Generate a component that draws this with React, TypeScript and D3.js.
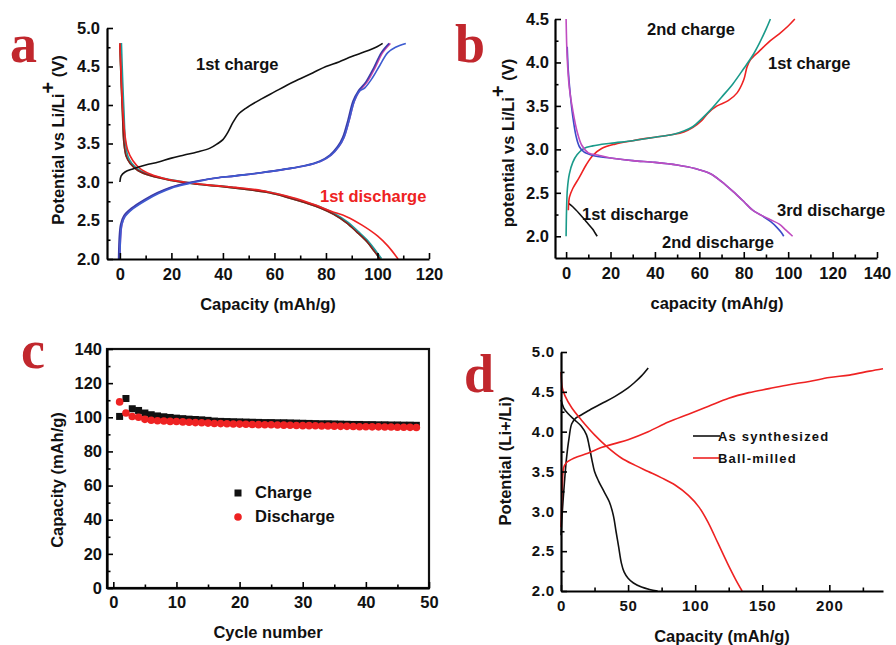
import React, { useEffect, useRef } from 'react';
import * as d3 from 'd3';

// ---- panel a: cycling curves (capacity mAh/g, potential V)
const aCharge1 = [[0, 3.0], [0.5, 3.08], [2, 3.13], [5, 3.17], [10, 3.22], [15, 3.26], [20, 3.31], [25, 3.35], [30, 3.39], [35, 3.44], [38, 3.5], [40, 3.55], [42, 3.65], [44, 3.78], [46, 3.88], [49, 3.96], [55, 4.08], [60, 4.17], [65, 4.26], [70, 4.34], [75, 4.42], [80, 4.5], [85, 4.56], [90, 4.63], [95, 4.69], [100, 4.76], [102, 4.8]];
const aDischarge1 = [[0, 4.8], [0.6, 4.3], [1.2, 3.9], [2, 3.6], [3, 3.42], [5, 3.28], [8, 3.17], [12, 3.1], [18, 3.04], [25, 3.0], [35, 2.96], [45, 2.93], [55, 2.89], [62, 2.84], [70, 2.77], [76, 2.7], [82, 2.62], [88, 2.55], [94, 2.44], [100, 2.3], [104, 2.17], [108, 2.0]];
const aDischargeN = [[0, 4.8], [0.5, 4.3], [1, 3.9], [1.6, 3.5], [2.5, 3.33], [4, 3.24], [7, 3.15], [12, 3.08], [20, 3.02], [30, 2.97], [40, 2.94], [50, 2.9], [58, 2.86], [65, 2.8], [72, 2.73], [78, 2.66], [83, 2.58], [88, 2.47], [92, 2.35], [96, 2.22], [99, 2.09], [101, 2.0]];
const aChargeN = [[0, 2.0], [0.3, 2.3], [0.8, 2.45], [2, 2.56], [5, 2.66], [10, 2.77], [15, 2.86], [20, 2.93], [27, 2.99], [35, 3.04], [45, 3.08], [55, 3.12], [65, 3.17], [72, 3.21], [78, 3.27], [82, 3.35], [85, 3.46], [87, 3.58], [89, 3.8], [91, 4.05], [93, 4.18], [96, 4.3], [99, 4.48], [102, 4.68], [105, 4.8]];
const aChargeBlue = [[0, 2.0], [0.3, 2.3], [0.8, 2.45], [2, 2.55], [5, 2.65], [10, 2.76], [15, 2.85], [20, 2.92], [27, 2.98], [35, 3.04], [45, 3.08], [55, 3.12], [65, 3.17], [72, 3.21], [78, 3.27], [82, 3.35], [85, 3.46], [87, 3.58], [89, 3.8], [91, 4.05], [93, 4.18], [95, 4.22], [98, 4.35], [101, 4.52], [104, 4.68], [107, 4.75], [111, 4.8]];

// ---- panel b
const bDischarge1 = [[1, 2.38], [3, 2.34], [6, 2.26], [9, 2.17], [12, 2.08], [13, 2.04], [14, 2.0]];
const bCharge1 = [[1, 2.3], [1.5, 2.45], [3, 2.55], [6, 2.68], [9, 2.82], [12, 2.93], [16, 3.01], [22, 3.06], [30, 3.1], [40, 3.14], [48, 3.17], [53, 3.2], [57, 3.25], [61, 3.33], [64, 3.42], [68, 3.5], [73, 3.56], [77, 3.65], [80, 3.8], [81.5, 3.95], [83, 4.03], [87, 4.13], [92, 4.25], [96, 4.33], [100, 4.42], [103, 4.5]];
const bCharge2 = [[0, 2.0], [0.2, 2.3], [0.6, 2.55], [1.5, 2.72], [3, 2.85], [5, 2.94], [8, 3.01], [12, 3.04], [20, 3.07], [30, 3.1], [40, 3.14], [48, 3.17], [53, 3.21], [57, 3.26], [61, 3.35], [66, 3.48], [70, 3.6], [75, 3.75], [80, 3.93], [84, 4.08], [87, 4.22], [90, 4.38], [92, 4.5]];
const bDischarge2 = [[0.5, 4.18], [1, 3.9], [2, 3.6], [3, 3.38], [4.5, 3.15], [6, 3.03], [8, 2.97], [12, 2.93], [20, 2.9], [30, 2.87], [40, 2.85], [50, 2.82], [58, 2.78], [65, 2.72], [70, 2.63], [75, 2.52], [80, 2.4], [84, 2.3], [88, 2.24], [92, 2.17], [95, 2.1], [97, 2.04], [98, 2.0]];
const bDischarge3 = [[0, 4.5], [0.5, 4.05], [1.5, 3.7], [3, 3.45], [5, 3.2], [7, 3.05], [10, 2.96], [15, 2.93], [20, 2.9], [30, 2.87], [40, 2.85], [50, 2.82], [58, 2.78], [65, 2.72], [70, 2.63], [75, 2.52], [80, 2.4], [84, 2.3], [88, 2.24], [92, 2.19], [96, 2.14], [99, 2.07], [102, 2.0]];

// ---- panel c: capacity per cycle
const cycles = d3.range(1, 49);
const chargeCap = [100.5, 111, 105, 104, 102.5, 101.5, 100.8, 100.3, 99.9, 99.5, 99.2, 98.9, 98.7, 98.5, 98.2, 97.8, 97.6, 97.5, 97.4, 97.3, 97.2, 97.1, 97.0, 96.9, 96.9, 96.8, 96.8, 96.7, 96.6, 96.5, 96.4, 96.3, 96.2, 96.2, 96.1, 96.0, 95.9, 95.8, 95.8, 95.7, 95.7, 95.6, 95.6, 95.5, 95.5, 95.4, 95.4, 95.3];
const dischargeCap = [109, 102.5, 100.5, 100, 98.8, 98.3, 98, 97.8, 97.6, 97.5, 97.3, 97.1, 96.9, 96.8, 96.6, 96.4, 96.3, 96.2, 96.1, 96.0, 95.9, 95.8, 95.7, 95.6, 95.6, 95.5, 95.4, 95.3, 95.2, 95.1, 95.1, 95.0, 94.9, 94.9, 94.8, 94.7, 94.7, 94.6, 94.5, 94.5, 94.4, 94.4, 94.3, 94.3, 94.2, 94.2, 94.1, 94.0];

// ---- panel d
const asCharge = [[0, 2.7], [1, 3.0], [2.5, 3.35], [4, 3.65], [6, 3.92], [8, 4.1], [11, 4.17], [15, 4.21], [20, 4.26], [30, 4.35], [40, 4.44], [50, 4.55], [55, 4.62], [60, 4.7], [65, 4.8]];
const asDischarge = [[0, 4.4], [2, 4.3], [5, 4.23], [10, 4.15], [15, 4.07], [19, 3.96], [21, 3.82], [23, 3.65], [25, 3.5], [28, 3.38], [32, 3.25], [36, 3.12], [39, 2.95], [41, 2.75], [43, 2.55], [45, 2.35], [47, 2.24], [50, 2.16], [54, 2.1], [60, 2.05], [66, 2.02], [72, 2.0]];
const bmCharge = [[0, 2.8], [1, 3.3], [2, 3.55], [4, 3.61], [10, 3.67], [20, 3.73], [30, 3.8], [40, 3.85], [50, 3.9], [65, 4.0], [80, 4.12], [95, 4.22], [110, 4.32], [125, 4.42], [140, 4.49], [155, 4.54], [170, 4.59], [185, 4.63], [200, 4.68], [215, 4.71], [230, 4.76], [240, 4.79]];
const bmDischarge = [[0, 4.75], [1, 4.55], [3, 4.45], [8, 4.3], [15, 4.15], [25, 3.96], [35, 3.8], [45, 3.67], [55, 3.58], [65, 3.5], [75, 3.42], [85, 3.33], [95, 3.2], [103, 3.05], [110, 2.85], [117, 2.6], [124, 2.35], [130, 2.15], [135, 2.0]];

const FONT = '"Liberation Sans", Arial, sans-serif';
const RED_LETTER = '#c1272d';

type Pt = number[];

function axes(g: any, x: any, y: any, o: any) {
  const xb = y.range()[0];
  const yl = x.range()[0];
  const xa = d3.axisBottom(x).tickValues(o.xTicks).tickSizeInner(-6).tickSizeOuter(0).tickPadding(o.xPad).tickFormat(o.xFmt || d3.format('d'));
  const xm = d3.axisBottom(x).tickValues(o.xMinor).tickSizeInner(-3.5).tickSizeOuter(0).tickFormat(() => '');
  const ya = d3.axisLeft(y).tickValues(o.yTicks).tickSizeInner(-6).tickSizeOuter(0).tickPadding(o.yPad).tickFormat(o.yFmt || d3.format('.1f'));
  const ym = d3.axisLeft(y).tickValues(o.yMinor).tickSizeInner(-3.5).tickSizeOuter(0).tickFormat(() => '');
  const gx = g.append('g').attr('transform', `translate(0,${xb})`);
  gx.append('g').call(xm).select('.domain').remove();
  gx.append('g').call(xa);
  const gy = g.append('g').attr('transform', `translate(${yl},0)`);
  gy.append('g').call(ym).select('.domain').remove();
  gy.append('g').call(ya);
  g.selectAll('.domain').attr('stroke-width', 2.2);
  g.selectAll('.tick line').attr('stroke-width', 1.6);
  g.selectAll('.tick text').attr('font-family', FONT).attr('font-weight', 'bold').attr('font-size', 16.5).attr('fill', '#111');
}

function curve(g: any, x: any, y: any, data: Pt[], color: string, w = 1.6) {
  g.append('path').datum(data)
    .attr('d', d3.line<Pt>().x(d => x(d[0])).y(d => y(d[1])).curve(d3.curveCatmullRom.alpha(0.5)))
    .attr('fill', 'none').attr('stroke', color).attr('stroke-width', w).attr('stroke-linejoin', 'round');
}

function label(g: any, txt: string, xx: number, yy: number, color = '#111', size = 16.5, anchor = 'start') {
  return g.append('text').attr('x', xx).attr('y', yy).attr('font-family', FONT).attr('font-weight', 'bold')
    .attr('font-size', size).attr('fill', color).attr('text-anchor', anchor).text(txt);
}

function ylabel(g: any, cx: number, cy: number, parts: [string, boolean][]) {
  const t = g.append('text').attr('transform', `translate(${cx},${cy}) rotate(-90)`).attr('text-anchor', 'middle')
    .attr('font-family', FONT).attr('font-weight', 'bold').attr('font-size', 16.5).attr('fill', '#111');
  parts.forEach(([s, sup]) => {
    const ts = t.append('tspan').text(s);
    if (sup) ts.attr('baseline-shift', '45%').attr('font-size', 20);
  });
}

function letter(g: any, s: string, xx: number, yy: number) {
  g.append('text').attr('x', xx).attr('y', yy).attr('font-family', '"Liberation Serif", "Times New Roman", serif')
    .attr('font-weight', 'bold').attr('font-size', 54).attr('fill', RED_LETTER).text(s);
}

export default function App() {
  const ref = useRef<SVGSVGElement>(null);
  useEffect(() => {
    const svg = d3.select(ref.current);
    svg.selectAll('*').remove();

    // ---------- a
    const ga = svg.append('g');
    const xa = d3.scaleLinear().domain([-5, 120]).range([107, 429]);
    const ya = d3.scaleLinear().domain([2, 5]).range([259, 28]);
    curve(ga, xa, ya, aDischargeN, '#3a9a5a');
    curve(ga, xa, ya, aDischargeN.map(d => [d[0] + 0.6, d[1] + 0.005]), '#1f9b9b');
    curve(ga, xa, ya, aDischargeN, '#8a1a1a');
    curve(ga, xa, ya, aDischarge1, '#ee2222');
    curve(ga, xa, ya, aChargeN, '#cc44aa');
    curve(ga, xa, ya, aChargeN.map(d => [d[0] - 0.5, d[1]]), '#3b3ba8');
    curve(ga, xa, ya, aChargeBlue, '#3d5bd0');
    curve(ga, xa, ya, aCharge1, '#111');
    axes(ga, xa, ya, {
      xTicks: d3.range(0, 121, 20), xMinor: d3.range(10, 120, 20), xPad: 9,
      yTicks: d3.range(2, 5.01, 0.5), yMinor: d3.range(2.25, 5, 0.5), yPad: 7,
    });
    label(ga, '1st charge', 196, 70);
    label(ga, '1st discharge', 320, 202, '#ee2222');
    label(ga, 'Capacity (mAh/g)', 268, 310, '#111', 16.5, 'middle');
    ylabel(ga, 64, 140, [['Potential vs Li/Li', false], ['+', true], [' (V)', false]]);
    letter(ga, 'a', 10, 62);

    // ---------- b
    const gb = svg.append('g');
    const xb = d3.scaleLinear().domain([-5, 140]).range([555, 877]);
    const yb = d3.scaleLinear().domain([1.75, 4.5]).range([258, 19]);
    curve(gb, xb, yb, bDischarge1, '#111');
    curve(gb, xb, yb, bCharge1, '#ee2222');
    curve(gb, xb, yb, bCharge2, '#1a9a8a');
    curve(gb, xb, yb, bDischarge2, '#3b4bc8');
    curve(gb, xb, yb, bDischarge3, '#c04cc0');
    axes(gb, xb, yb, {
      xTicks: d3.range(0, 141, 20), xMinor: d3.range(10, 140, 20), xPad: 9,
      yTicks: d3.range(2, 4.51, 0.5), yMinor: d3.range(2.25, 4.5, 0.5), yPad: 6,
    });
    label(gb, '2nd charge', 647, 35);
    label(gb, '1st charge', 768, 69);
    label(gb, '1st discharge', 582, 220);
    label(gb, '2nd discharge', 662, 248);
    label(gb, '3rd discharge', 777, 216);
    label(gb, 'capacity (mAh/g)', 717, 309, '#111', 16.5, 'middle');
    ylabel(gb, 514, 143, [['potential vs Li/Li', false], ['+', true], [' (V)', false]]);
    letter(gb, 'b', 455, 62);

    // ---------- c
    const gc = svg.append('g');
    const xc = d3.scaleLinear().domain([-1, 50]).range([107, 429]);
    const yc = d3.scaleLinear().domain([0, 140]).range([588, 349]);
    gc.append('rect').attr('x', 107).attr('y', 349).attr('width', 322).attr('height', 239)
      .attr('fill', 'none').attr('stroke', '#111').attr('stroke-width', 2.2);
    gc.append('g').selectAll('rect').data(cycles).join('rect')
      .attr('x', d => xc(d) - 3.5).attr('y', (d, i) => yc(chargeCap[i]) - 3.5).attr('width', 7).attr('height', 7).attr('fill', '#111');
    gc.append('g').selectAll('circle').data(cycles).join('circle')
      .attr('cx', d => xc(d)).attr('cy', (d, i) => yc(dischargeCap[i])).attr('r', 3.8).attr('fill', '#ee2222');
    axes(gc, xc, yc, {
      xTicks: d3.range(0, 51, 10), xMinor: d3.range(5, 50, 10), xPad: 8,
      yTicks: d3.range(0, 141, 20), yMinor: d3.range(10, 140, 20), yPad: 5, yFmt: d3.format('d'),
    });
    gc.append('rect').attr('x', 234.5).attr('y', 489.5).attr('width', 7).attr('height', 7).attr('fill', '#111');
    gc.append('circle').attr('cx', 238).attr('cy', 517).attr('r', 3.8).attr('fill', '#ee2222');
    label(gc, 'Charge', 255, 498);
    label(gc, 'Discharge', 255, 522);
    label(gc, 'Cycle number', 268, 638, '#111', 16.5, 'middle');
    ylabel(gc, 63, 480, [['Capacity (mAh/g)', false]]);
    letter(gc, 'c', 21, 368);

    // ---------- d
    const gd = svg.append('g');
    const xd = d3.scaleLinear().domain([0, 240]).range([561, 883]);
    const yd = d3.scaleLinear().domain([2, 5]).range([591, 352]);
    curve(gd, xd, yd, asCharge, '#111');
    curve(gd, xd, yd, asDischarge, '#111');
    curve(gd, xd, yd, bmCharge, '#ee2222');
    curve(gd, xd, yd, bmDischarge, '#ee2222');
    axes(gd, xd, yd, {
      xTicks: d3.range(0, 201, 50), xMinor: d3.range(25, 240, 50), xPad: 9,
      yTicks: d3.range(2, 5.01, 0.5), yMinor: d3.range(2.25, 5, 0.5), yPad: 6,
    });
    gd.selectAll('.tick text').attr('font-size', 15).attr('letter-spacing', 0.8);
    gd.append('line').attr('x1', 693).attr('x2', 720).attr('y1', 436).attr('y2', 436).attr('stroke', '#111').attr('stroke-width', 1.6);
    gd.append('line').attr('x1', 693).attr('x2', 720).attr('y1', 458).attr('y2', 458).attr('stroke', '#ee2222').attr('stroke-width', 1.6);
    label(gd, 'As synthesized', 718, 441, '#111', 13).attr('letter-spacing', 1.2);
    label(gd, 'Ball-milled', 718, 463, '#111', 13).attr('letter-spacing', 1.2);
    label(gd, 'Capacity (mAh/g)', 722, 642, '#111', 16.5, 'middle');
    ylabel(gd, 511, 461, [['Potential (Li+/Li)', false]]);
    letter(gd, 'd', 464, 392);
  }, []);

  return <svg ref={ref} width={896} height={645} style={{ display: 'block', position: 'absolute', left: 0, top: 0, background: '#fff' }} />;
}
